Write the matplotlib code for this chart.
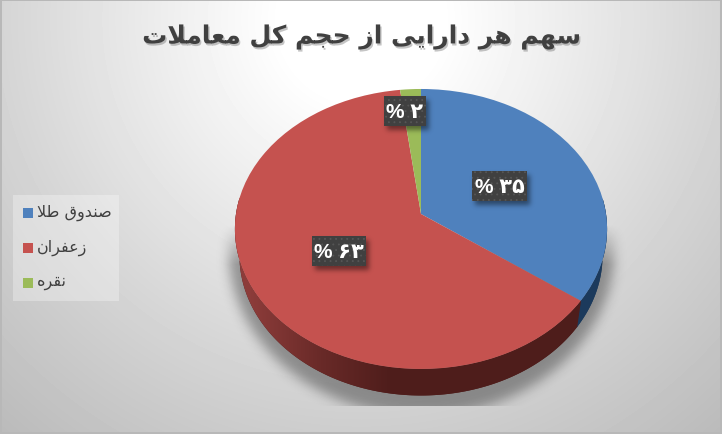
import numpy as np
import matplotlib
matplotlib.use('Agg')
import matplotlib.pyplot as plt
import matplotlib.patheffects as pe
from matplotlib.patches import Rectangle
from matplotlib.transforms import Transform

title = 'سهم هر دارایی از حجم کل معاملات'
categories = ['صندوق طلا', 'زعفران', 'نقره']
values = [35, 63, 2]
colors = ['#4f81bd', '#c5524f', '#9bbb59']

W, H = 722, 435
plt.rcParams['hatch.linewidth'] = 0.6

# presentation forms: isolated, final, initial, medial
FORMS = {'ا': '\uFE8D\uFE8E', 'د': '\uFEA9\uFEAA', 'ر': '\uFEAD\uFEAE', 'ز': '\uFEAF\uFEB0', 'و': '\uFEED\uFEEE'}
for ch, base in {'ت': 0xFE95, 'ج': 0xFE9D, 'ح': 0xFEA1, 'س': 0xFEB1, 'ص': 0xFEB9, 'ط': 0xFEC1, 'ع': 0xFEC9,
                 'ف': 0xFED1, 'ق': 0xFED5, 'ل': 0xFEDD, 'م': 0xFEE1, 'ن': 0xFEE5, 'ه': 0xFEE9,
                 'ک': 0xFB8E, 'ی': 0xFBFC}.items():
    FORMS[ch] = ''.join(chr(base + i) for i in range(4))


def shape(text):
    # matplotlib has no arabic shaping, so join the letters by hand and reverse
    text = text.replace('لا', '\uFEFB')
    out = []
    for i, ch in enumerate(text):
        prev = text[i - 1] if i > 0 else ' '
        nxt = text[i + 1] if i < len(text) - 1 else ' '
        if ch == '\uFEFB':
            out.append('\uFEFC' if prev in FORMS and len(FORMS[prev]) == 4 else ch)
            continue
        if ch not in FORMS:
            out.append(ch)
            continue
        f = FORMS[ch]
        join_prev = prev in FORMS and len(FORMS[prev]) == 4
        join_next = len(f) == 4 and (nxt in FORMS or nxt == '\uFEFB')
        if join_prev and join_next:
            out.append(f[3])
        elif join_prev:
            out.append(f[1])
        elif join_next:
            out.append(f[2])
        else:
            out.append(f[0])
    return ''.join(reversed(out))


def to_fa(n):
    return str(n).translate(str.maketrans('0123456789', '۰۱۲۳۴۵۶۷۸۹'))


def blur(a, sigma):
    r = int(sigma * 3)
    k = np.exp(-0.5 * (np.arange(-r, r + 1) / sigma) ** 2)
    k /= k.sum()
    a = np.apply_along_axis(lambda v: np.convolve(v, k, mode='same'), 0, a)
    return np.apply_along_axis(lambda v: np.convolve(v, k, mode='same'), 1, a)


class Tilt(Transform):
    # unit circle of the pie -> pixel position, far edge a bit smaller
    input_dims = 2
    output_dims = 2

    def __init__(self, rx=185.0, ry=138.4, k=0.107, dy=0.0):
        super().__init__()
        self.rx, self.ry, self.k, self.dy = rx, ry, k, dy

    def transform_non_affine(self, xy):
        xy = np.asarray(xy, dtype=float)
        w = 1 + self.k * xy[:, 1]
        return np.column_stack((421 + self.rx * xy[:, 0] / w, 215 + self.dy - self.ry * xy[:, 1] / w))


fig = plt.figure(figsize=(W / 100, H / 100), dpi=100)
ax = fig.add_axes([0, 0, 1, 1])
wedges, _ = ax.pie(values, colors=colors, startangle=90, counterclock=False, wedgeprops={'linewidth': 0})
ax.set_aspect('auto')
ax.set_xlim(0, W)
ax.set_ylim(H, 0)
ax.axis('off')

yy, xx = np.mgrid[0:H, 0:W]

# background
d = np.hypot(xx - 361, yy - 20)
grey = np.interp(d, [0, 80, 200, 350, 550], [1.0, 1.0, 0.93, 0.84, 0.73])
grey[:2, :] = 0.72
grey[-2:, :] = 0.72
grey[:, :2] = 0.72
grey[:, -2:] = 0.72
ax.imshow(grey, cmap='gray', vmin=0, vmax=1, extent=(0, W, H, 0), aspect='auto', zorder=0)

# soft shadow under the pie, cut flat at the bottom
mask = (((xx - 421) / 193.0) ** 2 + ((yy - 250) / 166.0) ** 2 < 1).astype(float)
shade = blur(mask, 6) * np.clip((yy - 225) / 40.0, 0, 1) * (yy < 407)
layer = np.zeros((H, W, 4))
layer[..., 3] = 0.35 * shade
ax.imshow(layer, extent=(0, W, H, 0), aspect='auto', zorder=1)

# side wall of the pie, one gradient image per slice clipped to the wall shape
top = Tilt()
bottom = Tilt(rx=180.5, dy=26.5)
wall_x = [250, 320, 392, 600]
wall_rgb = {'#c5524f': [(140, 60, 58), (105, 42, 40), (78, 29, 27), (78, 29, 27)],
            '#4f81bd': [(28, 58, 92)] * 4}
for w, c in zip(wedges, colors):
    th = np.radians(np.arange(w.theta1, w.theta2 + 0.5, 0.5))
    th = th[np.sin(th) < 0.12]
    if len(th) < 2:
        continue
    xy = np.column_stack((np.cos(th), np.sin(th)))
    p, q = top.transform(xy), bottom.transform(xy)
    outline = ax.fill(np.r_[p[:, 0], q[::-1, 0]], np.r_[p[:, 1], q[::-1, 1]], color=wall_rgb[c][-1] and
                      np.array(wall_rgb[c][-1]) / 255, lw=0, zorder=2)[0]
    grad = np.zeros((1, W, 3))
    for j in range(3):
        grad[0, :, j] = np.interp(np.arange(W), wall_x, [s[j] for s in wall_rgb[c]]) / 255
    im = ax.imshow(grad, extent=(0, W, H, 0), aspect='auto', zorder=2.1)
    im.set_clip_path(outline)

# top face
for w in wedges:
    w.set_transform(top + ax.transData)
    w.set_zorder(3)
    w.set_clip_on(False)

# value labels
box_pos = [(472, 172, 55, 30), (312, 237, 54, 30), (384, 97, 42, 30)]
shadow = np.zeros((H, W))
for x0, y0, bw, bh in box_pos:
    shadow[y0 + 4:y0 + bh + 4, x0 + 3:x0 + bw + 3] = 1
layer = np.zeros((H, W, 4))
layer[..., 3] = 0.45 * blur(shadow, 2.5)
ax.imshow(layer, extent=(0, W, H, 0), aspect='auto', zorder=4)
for v, (x0, y0, bw, bh) in zip(values, box_pos):
    ax.add_patch(Rectangle((x0, y0), bw, bh, facecolor='#404040', edgecolor='none', zorder=5))
    ax.add_patch(Rectangle((x0, y0), bw, bh, facecolor='none', edgecolor='#565656', hatch='...', lw=0, zorder=5.1))
    ax.text(x0 + bw / 2, y0 + bh / 2 + 1, '% ' + to_fa(v), color='white', fontsize=15, fontweight='bold',
            family=['Liberation Sans', 'DejaVu Sans'], ha='center', va='center', zorder=6)

# legend
ax.add_patch(Rectangle((13, 196), 106, 106, facecolor='white', alpha=0.3, edgecolor='none', zorder=5))
for i, (name, c) in enumerate(zip(categories, colors)):
    y = 214 + 35 * i
    ax.add_patch(Rectangle((23, y - 5), 10, 10, facecolor=c, edgecolor='none', zorder=6))
    ax.text(37, y - 1, shape(name), color='#404040', fontsize=11.5, ha='left', va='center', zorder=6)

t = ax.text(362, 38, shape(title), color='#404040', fontsize=18, fontweight='bold', ha='center', va='center', zorder=6)
t.set_path_effects([pe.SimplePatchShadow(offset=(1, -1.5), alpha=0.3, shadow_rgbFace='#404040'), pe.Normal()])

fig.savefig('out.png', dpi=100)
